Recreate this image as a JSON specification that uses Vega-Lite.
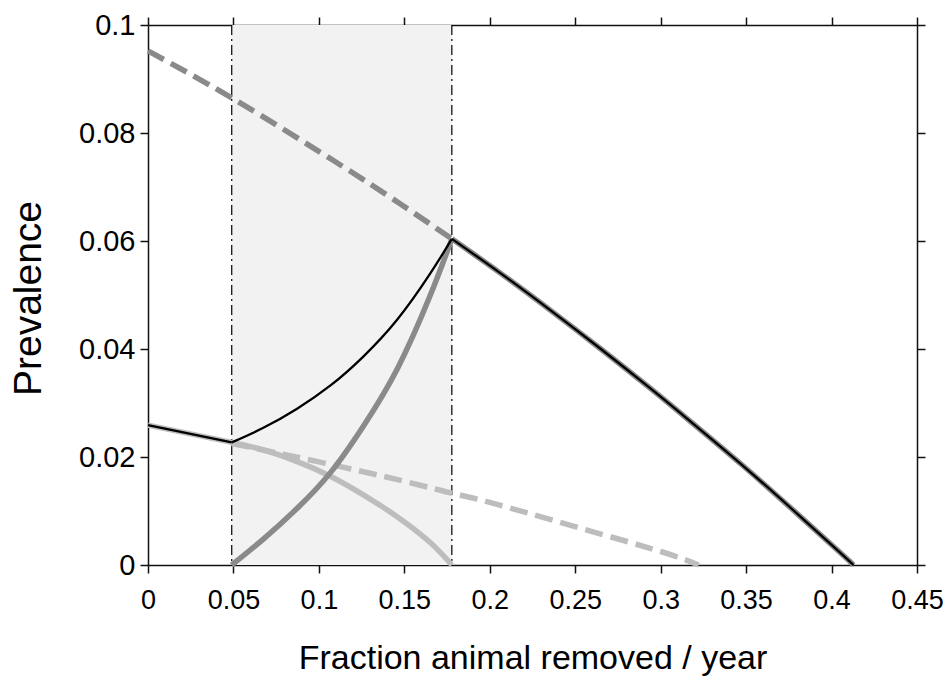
{
  "$schema": "https://vega.github.io/schema/vega-lite/v6.json",
  "width": 769,
  "height": 540,
  "autosize": {"type": "none"},
  "padding": {"left": 148, "top": 25, "right": 28, "bottom": 112},
  "background": "white",
  "config": {
    "view": {"stroke": null},
    "axis": {
      "grid": false,
      "labelFont": "Liberation Sans",
      "labelFontSize": 27,
      "labelColor": "#000000",
      "titleFont": "Liberation Sans",
      "titleFontWeight": "normal",
      "titleColor": "#000000",
      "tickColor": "#111111",
      "tickSize": 8,
      "tickWidth": 1.5,
      "domainColor": "#111111",
      "domainWidth": 1.5,
      "labelOverlap": false,
      "labelFlush": false
    }
  },
  "datasets": {
    "band": [{"lo": 0.049, "hi": 0.1778}],
    "bounds": [{"x": 0.049}, {"x": 0.1778}],
    "curves": [
      {"s": "dkdash", "seg": "a", "x": 0, "y": 0.0952},
      {"s": "dkdash", "seg": "a", "x": 0.049, "y": 0.0865},
      {"s": "dkdash", "seg": "a", "x": 0.1085, "y": 0.0749},
      {"s": "dkdash", "seg": "a", "x": 0.1475, "y": 0.0669},
      {"s": "dkdash", "seg": "a", "x": 0.1778, "y": 0.0604},

      {"s": "ltdash", "seg": "a", "x": 0.049, "y": 0.0225},
      {"s": "ltdash", "seg": "a", "x": 0.1, "y": 0.0191},
      {"s": "ltdash", "seg": "a", "x": 0.15, "y": 0.0155},
      {"s": "ltdash", "seg": "a", "x": 0.1778, "y": 0.0133},
      {"s": "ltdash", "seg": "a", "x": 0.2, "y": 0.0116},
      {"s": "ltdash", "seg": "a", "x": 0.25, "y": 0.0071},
      {"s": "ltdash", "seg": "a", "x": 0.3, "y": 0.0025},
      {"s": "ltdash", "seg": "a", "x": 0.3222, "y": 0},

      {"s": "ltsolid", "seg": "a", "x": 0, "y": 0.0259},
      {"s": "ltsolid", "seg": "a", "x": 0.049, "y": 0.0227},
      {"s": "ltsolid", "seg": "a", "x": 0.0675, "y": 0.0213},
      {"s": "ltsolid", "seg": "a", "x": 0.087, "y": 0.0192},
      {"s": "ltsolid", "seg": "a", "x": 0.107, "y": 0.0164},
      {"s": "ltsolid", "seg": "a", "x": 0.126, "y": 0.0130},
      {"s": "ltsolid", "seg": "a", "x": 0.146, "y": 0.0089},
      {"s": "ltsolid", "seg": "a", "x": 0.165, "y": 0.0042},
      {"s": "ltsolid", "seg": "a", "x": 0.1778, "y": 0},

      {"s": "dksolid", "seg": "r", "x": 0.049, "y": 0},
      {"s": "dksolid", "seg": "r", "x": 0.0675, "y": 0.0048},
      {"s": "dksolid", "seg": "r", "x": 0.087, "y": 0.0104},
      {"s": "dksolid", "seg": "r", "x": 0.107, "y": 0.0172},
      {"s": "dksolid", "seg": "r", "x": 0.126, "y": 0.0257},
      {"s": "dksolid", "seg": "r", "x": 0.146, "y": 0.0364},
      {"s": "dksolid", "seg": "r", "x": 0.165, "y": 0.0498},
      {"s": "dksolid", "seg": "r", "x": 0.1778, "y": 0.0604},
      {"s": "dksolid", "seg": "f", "x": 0.1778, "y": 0.0604},
      {"s": "dksolid", "seg": "f", "x": 0.206, "y": 0.0541},
      {"s": "dksolid", "seg": "f", "x": 0.235, "y": 0.0473},
      {"s": "dksolid", "seg": "f", "x": 0.265, "y": 0.0400},
      {"s": "dksolid", "seg": "f", "x": 0.294, "y": 0.0327},
      {"s": "dksolid", "seg": "f", "x": 0.317, "y": 0.0267},
      {"s": "dksolid", "seg": "f", "x": 0.347, "y": 0.0187},
      {"s": "dksolid", "seg": "f", "x": 0.376, "y": 0.0106},
      {"s": "dksolid", "seg": "f", "x": 0.405, "y": 0.0023},
      {"s": "dksolid", "seg": "f", "x": 0.4128, "y": 0},

      {"s": "black", "seg": "a", "x": 0, "y": 0.0259},
      {"s": "black", "seg": "a", "x": 0.049, "y": 0.0227},
      {"s": "black", "seg": "b", "x": 0.049, "y": 0.0227},
      {"s": "black", "seg": "b", "x": 0.0675, "y": 0.0254},
      {"s": "black", "seg": "b", "x": 0.087, "y": 0.0289},
      {"s": "black", "seg": "b", "x": 0.107, "y": 0.0333},
      {"s": "black", "seg": "b", "x": 0.126, "y": 0.0386},
      {"s": "black", "seg": "b", "x": 0.146, "y": 0.0455},
      {"s": "black", "seg": "b", "x": 0.165, "y": 0.0539},
      {"s": "black", "seg": "b", "x": 0.1778, "y": 0.0604},
      {"s": "black", "seg": "c", "x": 0.1778, "y": 0.0604},
      {"s": "black", "seg": "c", "x": 0.206, "y": 0.0541},
      {"s": "black", "seg": "c", "x": 0.235, "y": 0.0473},
      {"s": "black", "seg": "c", "x": 0.265, "y": 0.0400},
      {"s": "black", "seg": "c", "x": 0.294, "y": 0.0327},
      {"s": "black", "seg": "c", "x": 0.317, "y": 0.0267},
      {"s": "black", "seg": "c", "x": 0.347, "y": 0.0187},
      {"s": "black", "seg": "c", "x": 0.376, "y": 0.0106},
      {"s": "black", "seg": "c", "x": 0.405, "y": 0.0023},
      {"s": "black", "seg": "c", "x": 0.4128, "y": 0}
    ]
  },
  "layer": [
    {
      "data": {"name": "band"},
      "mark": {"type": "rect", "color": "#f2f2f2"},
      "encoding": {
        "x": {"field": "lo", "type": "quantitative", "scale": {"domain": [0, 0.45], "nice": false}, "axis": null},
        "x2": {"field": "hi"}
      }
    },
    {
      "data": {"name": "bounds"},
      "mark": {"type": "rule", "color": "#000000", "strokeWidth": 1.2, "strokeDash": [10, 4, 2, 4]},
      "encoding": {
        "x": {"field": "x", "type": "quantitative", "scale": {"domain": [0, 0.45], "nice": false}, "axis": null}
      }
    },
    {
      "data": {"name": "curves"},
      "transform": [{"filter": "datum.s === 'ltdash'"}],
      "mark": {"type": "line", "color": "#bdbdbd", "strokeWidth": 5.5, "strokeDash": [18, 8], "interpolate": "natural"},
      "encoding": {
        "x": {
          "field": "x", "type": "quantitative",
          "scale": {"domain": [0, 0.45], "nice": false},
          "axis": {
            "orient": "bottom",
            "values": [0, 0.05, 0.1, 0.15, 0.2, 0.25, 0.3, 0.35, 0.4, 0.45],
            "format": "~g",
            "labelPadding": 14,
            "title": "Fraction animal removed / year",
            "titleFontSize": 34,
            "titleX": 384.5,
            "titleY": 103,
            "titleBaseline": "alphabetic"
          }
        },
        "y": {
          "field": "y", "type": "quantitative",
          "scale": {"domain": [0, 0.1], "nice": false},
          "axis": {
            "orient": "left",
            "values": [0, 0.02, 0.04, 0.06, 0.08, 0.1],
            "format": "~g",
            "labelFontSize": 29,
            "labelPadding": 5,
            "title": "Prevalence",
            "titleFontSize": 39,
            "titleAngle": -90,
            "titleX": -108,
            "titleY": 273,
            "titleBaseline": "alphabetic",
            "titleAlign": "center"
          }
        },
        "detail": {"field": "seg"}
      }
    },
    {
      "data": {"name": "curves"},
      "transform": [{"filter": "datum.s === 'ltsolid'"}],
      "mark": {"type": "line", "color": "#bdbdbd", "strokeWidth": 5.5, "interpolate": "natural"},
      "encoding": {
        "x": {
          "field": "x", "type": "quantitative",
          "scale": {"domain": [0, 0.45], "nice": false},
          "axis": {
            "orient": "top",
            "values": [0, 0.05, 0.1, 0.15, 0.2, 0.25, 0.3, 0.35, 0.4, 0.45],
            "labels": false,
            "title": null
          }
        },
        "y": {
          "field": "y", "type": "quantitative",
          "scale": {"domain": [0, 0.1], "nice": false},
          "axis": {
            "orient": "right",
            "values": [0, 0.02, 0.04, 0.06, 0.08, 0.1],
            "labels": false,
            "title": null
          }
        },
        "detail": {"field": "seg"}
      }
    },
    {
      "data": {"name": "curves"},
      "transform": [{"filter": "datum.s === 'dkdash'"}],
      "mark": {"type": "line", "color": "#8a8a8a", "strokeWidth": 5.5, "strokeDash": [18, 8], "interpolate": "natural"},
      "encoding": {
        "x": {"field": "x", "type": "quantitative", "scale": {"domain": [0, 0.45], "nice": false}, "axis": null},
        "y": {"field": "y", "type": "quantitative", "scale": {"domain": [0, 0.1], "nice": false}, "axis": null},
        "detail": {"field": "seg"}
      }
    },
    {
      "data": {"name": "curves"},
      "transform": [{"filter": "datum.s === 'dksolid'"}],
      "mark": {"type": "line", "color": "#8a8a8a", "strokeWidth": 5.5, "interpolate": "natural"},
      "encoding": {
        "x": {"field": "x", "type": "quantitative", "scale": {"domain": [0, 0.45], "nice": false}, "axis": null},
        "y": {"field": "y", "type": "quantitative", "scale": {"domain": [0, 0.1], "nice": false}, "axis": null},
        "detail": {"field": "seg"}
      }
    },
    {
      "data": {"name": "curves"},
      "transform": [{"filter": "datum.s === 'black'"}],
      "mark": {"type": "line", "color": "#000000", "strokeWidth": 2.3, "interpolate": "natural"},
      "encoding": {
        "x": {"field": "x", "type": "quantitative", "scale": {"domain": [0, 0.45], "nice": false}, "axis": null},
        "y": {"field": "y", "type": "quantitative", "scale": {"domain": [0, 0.1], "nice": false}, "axis": null},
        "detail": {"field": "seg"}
      }
    }
  ],
  "resolve": {"axis": {"x": "independent", "y": "independent"}}
}
